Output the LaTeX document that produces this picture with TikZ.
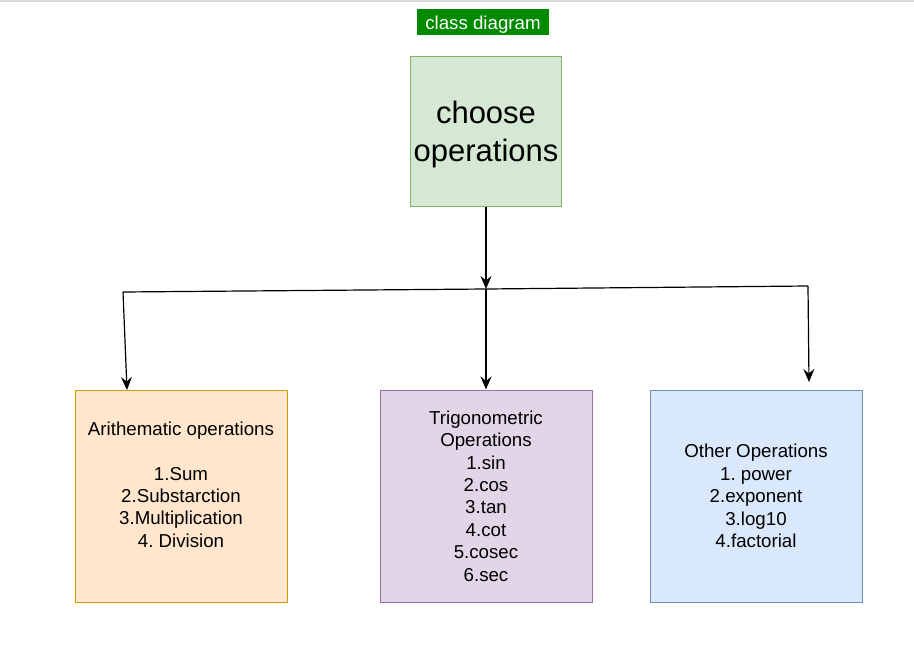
\documentclass[tikz,border=0pt]{standalone}
\usepackage{fontspec}
\setmainfont{Liberation Sans}
\usetikzlibrary{arrows.meta}
\frenchspacing

\definecolor{titlegreen}{RGB}{0,138,0}
\definecolor{choosefill}{HTML}{D5E8D4}
\definecolor{chooseline}{HTML}{82B366}
\definecolor{arithfill}{HTML}{FFE6CC}
\definecolor{arithline}{HTML}{D79B00}
\definecolor{trigfill}{HTML}{E1D5E7}
\definecolor{trigline}{HTML}{9673A6}
\definecolor{otherfill}{HTML}{DAE8FC}
\definecolor{otherline}{HTML}{6C8EBF}

\tikzset{
  opbox/.style={draw, line width=1pt, minimum width=212pt, minimum height=212pt,
    align=center, font=\fontsize{18.7}{22.4}\selectfont},
  link/.style={line width=1.2pt},
  >={Stealth[length=13pt,width=11pt,inset=4.5pt]}
}

\begin{document}
\begin{tikzpicture}[x=1pt,y=-1pt]
            \useasboundingbox (0,0) rectangle (914,672);
            % Top edge of the page
            \draw[black!15, line width=1.5pt] (0,1) -- (914,1);

            % Title tag
            \node (title) at (483,22) [fill=titlegreen, text=white, minimum width=132pt, minimum height=26pt,
                inner sep=0pt, text height=15pt, text depth=1pt, font=\fontsize{18.7}{22.4}\selectfont] {class diagram};

            % Main box
            \node (choose) at (486,131) [draw=chooseline, fill=choosefill, line width=1pt, minimum width=151pt,
                minimum height=150pt, align=center, font=\fontsize{31}{38}\selectfont] {\rule{0pt}{28.6pt}choose\\operations};

            % The three operation boxes
            \node (arith) at (181,496) [opbox, draw=arithline, fill=arithfill]
                {Arithematic operations\\[22pt]1.Sum\\2.Substarction\\3.Multiplication\\4. Division\\ \mbox{}};
            \node (trig) at (486,496) [opbox, draw=trigline, fill=trigfill]
                {Trigonometric\\Operations\\1.sin\\2.cos\\3.tan\\4.cot\\5.cosec\\6.sec};
            \node (other) at (756,496) [opbox, draw=otherline, fill=otherfill]
                {Other Operations\\1. power\\2.exponent\\3.log10\\4.factorial};

            % Junction points on the cross line
            \coordinate (jleft) at (123,292);
            \coordinate (jmid) at (486,289);
            \coordinate (jright) at (808,286);
            \coordinate (lefttip) at (127,390);
            \coordinate (righttip) at (809,382);

            % Connectors
            \draw[link, ->] (choose) -- (jmid);
            \draw[link] (jleft) -- (jmid) -- (jright);
            \draw[link, ->] (jleft) -- (lefttip);
            \draw[link, ->] (jmid) -- (trig);
            \draw[link, ->] (jright) -- (righttip);
        \end{tikzpicture}
\end{document}
